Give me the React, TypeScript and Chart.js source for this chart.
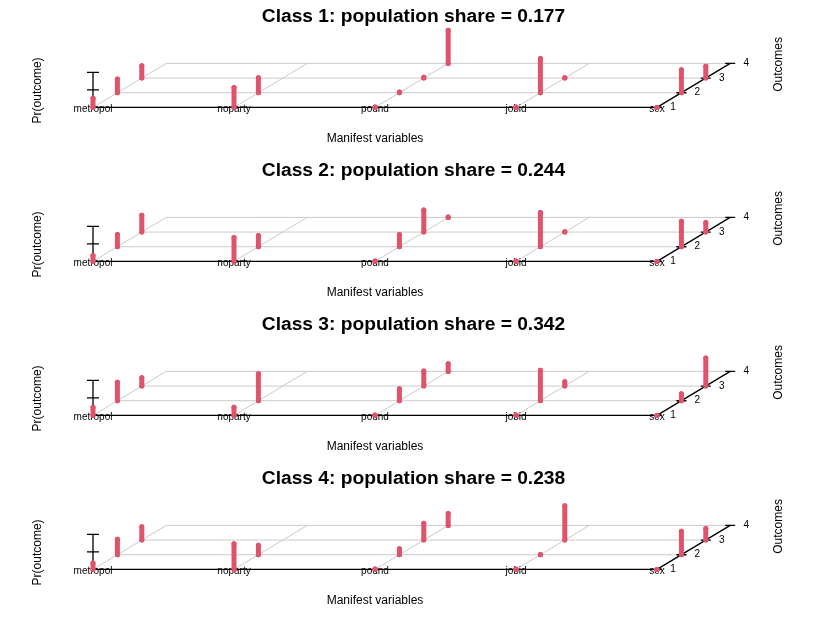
import { useEffect, useRef } from 'react';
import { Chart, registerables, Plugin } from 'chart.js';

Chart.register(...registerables);

// manifest variables and outcome levels
const VARIABLES = ['metropol', 'noparty', 'pound', 'jobid', 'sex'];
const OUTCOME_TICKS = ['1', '2', '3', '4'];
const Z_TICKS = [0.5, 1];
const CLASS_SHARES = [0.177, 0.244, 0.342, 0.238];

// Pr(outcome) per variable, one list per class
const CLASS_1 = [
  [0.26, 0.39, 0.35],
  [0.57, 0.43],
  [0.01, 0.02, 0.02, 0.95],
  [0.01, 0.98, 0.01],
  [0.0, 0.66, 0.34],
];
const CLASS_2 = [
  [0.17, 0.35, 0.48],
  [0.68, 0.32],
  [0.01, 0.35, 0.63, 0.01],
  [0.01, 0.98, 0.01],
  [0.0, 0.73, 0.27],
];
const CLASS_3 = [
  [0.23, 0.53, 0.24],
  [0.23, 0.77],
  [0.01, 0.34, 0.43, 0.22],
  [0.01, 0.87, 0.12],
  [0.0, 0.2, 0.8],
];
const CLASS_4 = [
  [0.18, 0.44, 0.38],
  [0.73, 0.27],
  [0.01, 0.17, 0.48, 0.34],
  [0.01, 0.01, 0.98],
  [0.0, 0.67, 0.33],
];
const CLASS_PROBS = [CLASS_1, CLASS_2, CLASS_3, CLASS_4];

const BAR_COLOR = '#DF536B';
const GRID_COLOR = '#CACACA';
const FONT = '"Liberation Sans", Arial, Helvetica, sans-serif';

// oblique projection of the (variable, outcome, probability) box
const DEPTH_DX = 0.173; // variable units per outcome step
const DEPTH_DY = 0.419; // probability units per outcome step

// panel layout
const W = 821;
const H = 154;
const X0 = 93; // pixel of the first variable
const PX_VAR = 141; // pixels per variable
const Y0 = 107.4; // pixel of the front baseline
const PX_PROB = 35; // pixels per unit probability
const PAD_LEFT = 6;
const TITLE_SIZE = 19.2;
const TITLE_PAD = 5;
const TITLE_H = TITLE_SIZE * 1.2 + TITLE_PAD;

type Pt = { x: number; y: number | null };

const px = (v: number, o: number) => v + o * DEPTH_DX;
const py = (o: number, p: number) => o * DEPTH_DY + p;

function segment(pts: Pt[], x1: number, y1: number, x2: number, y2: number) {
  pts.push({ x: x1, y: y1 }, { x: x2, y: y2 }, { x: x2, y: null });
}

function gridPoints() {
  const pts: Pt[] = [];
  const last = VARIABLES.length - 1;
  const maxO = OUTCOME_TICKS.length - 1;
  for (let o = 1; o <= maxO; o++) {
    segment(pts, px(0, o), py(o, 0), px(last, o), py(o, 0));
  }
  for (let v = 0; v < last; v++) {
    segment(pts, px(v, 0), 0, px(v, maxO), py(maxO, 0));
  }
  return pts;
}

function axisPoints() {
  const pts: Pt[] = [];
  const last = VARIABLES.length - 1;
  const maxO = OUTCOME_TICKS.length - 1;
  const tick = 5 / PX_VAR;
  segment(pts, px(0, 0), 0, px(last, 0), 0);
  segment(pts, px(last, 0), 0, px(last, maxO), py(maxO, 0));
  OUTCOME_TICKS.forEach((_, o) => {
    segment(pts, px(last, o) - tick, py(o, 0), px(last, o) + tick, py(o, 0));
  });
  // vertical Pr(outcome) axis at the first variable
  segment(pts, 0, 0, 0, Z_TICKS[Z_TICKS.length - 1]);
  Z_TICKS.forEach((z) => segment(pts, -6 / PX_VAR, z, 6 / PX_VAR, z));
  return pts;
}

function barPoints(probs: number[][]) {
  const pts: Pt[] = [];
  probs.forEach((row, v) => {
    row.forEach((p, o) => {
      segment(pts, px(v, o), py(o, 0), px(v, o), py(o, p));
    });
  });
  return pts;
}

// text drawn between the axes and the bars, so bars sit on top of the labels
const labelPlugin: Plugin<'scatter'> = {
  id: 'labels3d',
  afterDatasetDraw(chart, args) {
    if (args.index !== 1) return;
    const { ctx } = chart;
    const xs = chart.scales.x;
    const ys = chart.scales.y;
    const last = VARIABLES.length - 1;
    const base = ys.getPixelForValue(0);
    ctx.save();
    ctx.fillStyle = '#000';
    ctx.textAlign = 'center';
    ctx.textBaseline = 'middle';
    ctx.font = `10px ${FONT}`;
    VARIABLES.forEach((name, v) => {
      ctx.fillText(name, xs.getPixelForValue(px(v, 0)), base + 1.5);
    });
    OUTCOME_TICKS.forEach((t, o) => {
      ctx.fillText(t, xs.getPixelForValue(px(last, o)) + 16, ys.getPixelForValue(py(o, 0)));
    });
    ctx.font = `12px ${FONT}`;
    ctx.fillText('Manifest variables', xs.getPixelForValue(px(last / 2, 0)), base + 31);
    ctx.save();
    ctx.translate(38, base - 17);
    ctx.rotate(-Math.PI / 2);
    ctx.fillText('Pr(outcome)', 0, 0);
    ctx.restore();
    ctx.save();
    ctx.translate(779, base - 43);
    ctx.rotate(-Math.PI / 2);
    ctx.fillText('Outcomes', 0, 0);
    ctx.restore();
    ctx.restore();
  },
};

function ClassPanel({ index }: { index: number }) {
  const canvasRef = useRef<HTMLCanvasElement>(null);

  useEffect(() => {
    if (!canvasRef.current) return;
    const chart = new Chart(canvasRef.current, {
      type: 'scatter',
      data: {
        datasets: [
          {
            data: gridPoints(),
            showLine: true,
            borderColor: GRID_COLOR,
            borderWidth: 1,
            pointRadius: 0,
            order: 3,
          },
          {
            data: axisPoints(),
            showLine: true,
            borderColor: '#000000',
            borderWidth: 1.3,
            pointRadius: 0,
            order: 2,
          },
          {
            data: barPoints(CLASS_PROBS[index]),
            showLine: true,
            borderColor: BAR_COLOR,
            borderWidth: 5,
            borderCapStyle: 'round',
            pointRadius: 2.5,
            pointBorderWidth: 0,
            pointBackgroundColor: BAR_COLOR,
            order: 1,
          },
        ],
      },
      options: {
        animation: false,
        responsive: true,
        maintainAspectRatio: false,
        events: [],
        layout: { autoPadding: false, padding: { left: PAD_LEFT } },
        elements: { line: { tension: 0 } },
        datasets: { scatter: { clip: false, spanGaps: false } },
        plugins: {
          legend: { display: false },
          tooltip: { enabled: false },
          title: {
            display: true,
            text: `Class ${index + 1}: population share = ${CLASS_SHARES[index].toFixed(3)}`,
            color: '#000000',
            font: { family: FONT, size: TITLE_SIZE, weight: 'bold', lineHeight: 1.2 },
            padding: { top: TITLE_PAD, bottom: 0 },
          },
        },
        scales: {
          x: {
            type: 'linear',
            display: false,
            bounds: 'data',
            min: (PAD_LEFT - X0) / PX_VAR,
            max: (W - X0) / PX_VAR,
          },
          y: {
            type: 'linear',
            display: false,
            bounds: 'data',
            min: (Y0 - H) / PX_PROB,
            max: (Y0 - TITLE_H) / PX_PROB,
          },
        },
      },
      plugins: [labelPlugin],
    });
    return () => chart.destroy();
  }, [index]);

  return (
    <div style={{ width: W, height: H, position: 'relative' }}>
      <canvas ref={canvasRef}></canvas>
    </div>
  );
}

export default function App() {
  return (
    <div style={{ background: '#fff' }}>
      <style>{'body { margin: 0; background: #fff; }'}</style>
      {CLASS_SHARES.map((_, i) => (
        <ClassPanel key={i} index={i} />
      ))}
    </div>
  );
}
